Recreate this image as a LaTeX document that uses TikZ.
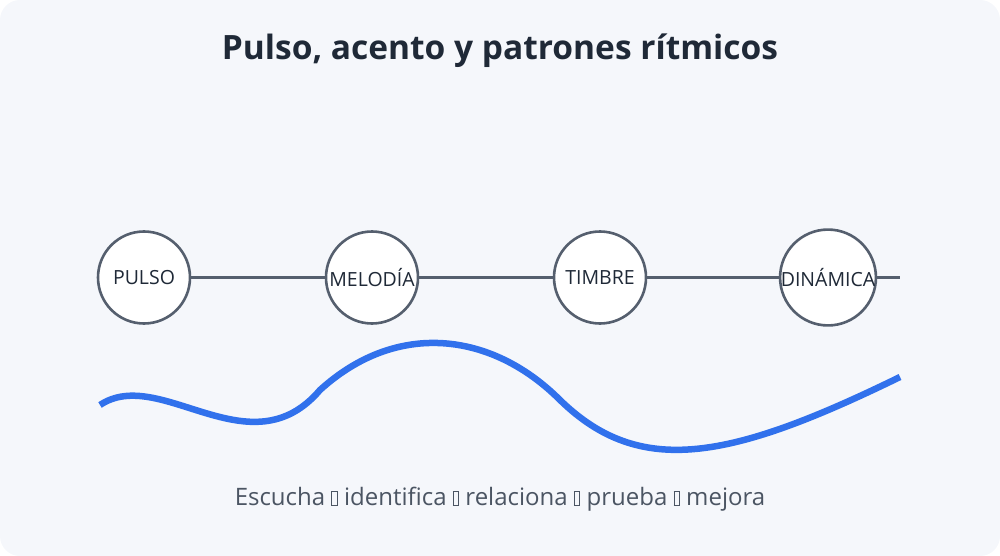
\documentclass[tikz,border=0pt]{standalone}
\usepackage{fontspec}
\setmainfont{Open Sans}
\usepackage{xcolor}
\usetikzlibrary{positioning,backgrounds}

\definecolor{bgpanel}{HTML}{F5F7FB}
\definecolor{titleink}{HTML}{1F2937}
\definecolor{slateink}{HTML}{555F6E}
\definecolor{noteink}{HTML}{4B5563}
\definecolor{waveblue}{HTML}{3171EC}

\newcommand{\tofu}{{\fboxsep=0pt\fboxrule=0.9pt\fbox{\rule{0pt}{13pt}\hspace{4.6pt}}}}

\tikzset{
	beat/.style={circle,draw=slateink,line width=2.6pt,fill=white,
		minimum size=92pt,inner sep=0pt,text=titleink,font=\fontsize{19.5}{22}\selectfont},
	joint/.style={slateink,line width=3.6pt}
}

\begin{document}
\begin{tikzpicture}[x=1pt,y=-1pt,node distance=228pt,on grid]
	\useasboundingbox (0,0) rectangle (1000,556);

	\node[font=\bfseries\fontsize{33.5}{38}\selectfont,text=titleink] (titulo) at (500,51)
		{Pulso, acento y patrones rítmicos};

%	====================================================================
	\node[beat] (pulso) at (144,277.5) {PULSO};
	\node[beat,right=of pulso] (melodia) {MELODÍA};
	\node[beat,right=of melodia] (timbre) {TIMBRE};
	\node[beat,right=of timbre] (dinamica) {DINÁMICA};
	\coordinate (fin) at (900,277.5);

	\begin{scope}[on background layer]
		\fill[bgpanel,rounded corners=20pt] (0,0) rectangle (1000,556);
		\draw[joint] (pulso) -- (melodia) -- (timbre) -- (dinamica) -- (fin);
	\end{scope}
%	====================================================================

	\draw[waveblue,line width=6.5pt]
		(100,405) .. controls (160,365) and (250,472) .. (320,390)
		.. controls (397,320) and (492,332) .. (560,400)
		.. controls (640,478) and (730,460) .. (900,377);

	\node[font=\fontsize{24}{28}\selectfont,text=noteink] (pasos) at (500,499)
		{Escucha \tofu{} identifica \tofu{} relaciona \tofu{} prueba \tofu{} mejora};
\end{tikzpicture}
\end{document}
